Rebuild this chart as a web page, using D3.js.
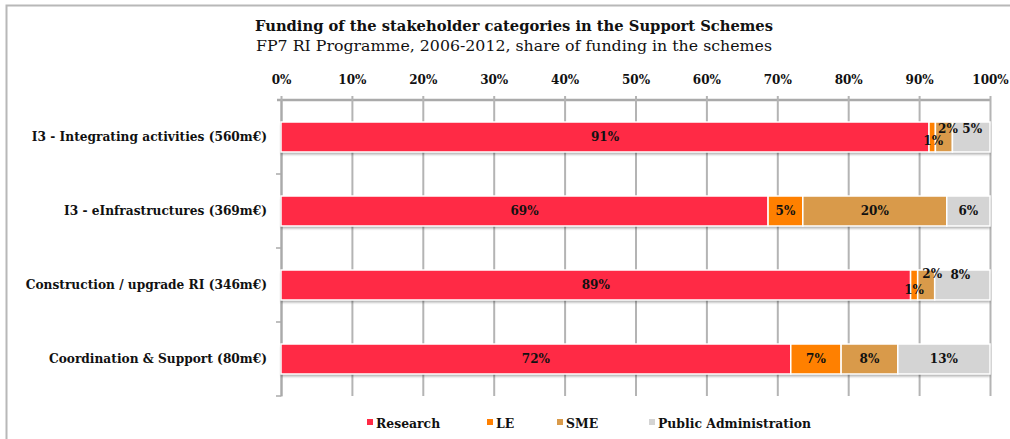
<!DOCTYPE html>
<html>
<head>
<meta charset="utf-8">
<script src="https://cdn.jsdelivr.net/npm/d3@7"></script>
<style>
  html, body { margin: 0; padding: 0; background: #fff; }
  svg { display: block; }
  text { font-family: "DejaVu Serif", serif; fill: #111; }
</style>
</head>
<body>
<svg id="chart" width="1010" height="439"></svg>
<script>
// data (percent of funding)
const categories = [
  'I3 - Integrating activities (560m€)',
  'I3 - eInfrastructures (369m€)',
  'Construction / upgrade RI (346m€)',
  'Coordination & Support (80m€)'
];
const seriesNames = ['Research', 'LE', 'SME', 'Public Administration'];
const research = [91.4, 68.7, 88.8, 71.9];
const le = [0.9, 4.9, 1.0, 7.1];
const sme = [2.4, 20.3, 2.4, 8.0];
const publicAdmin = [5.3, 6.1, 7.8, 13.0];
const xTicks = [0, 10, 20, 30, 40, 50, 60, 70, 80, 90, 100];

const colors = ['#ff2a45', '#ff8000', '#d99a4a', '#d4d4d4'];
const serif = '"DejaVu Serif", serif';

const svg = d3.select('#chart');

// frame
svg.append('path')
  .attr('d', 'M6.5,439 L6.5,5.5 L1010,5.5')
  .attr('fill', 'none')
  .attr('stroke', '#b8b8b8')
  .attr('stroke-width', 2);

// titles
svg.append('text')
  .attr('x', 514).attr('y', 31)
  .attr('text-anchor', 'middle')
  .attr('font-size', 15).attr('font-weight', 'bold')
  .attr('textLength', 518).attr('lengthAdjust', 'spacingAndGlyphs')
  .text('Funding of the stakeholder categories in the Support Schemes');
svg.append('text')
  .attr('x', 514).attr('y', 51)
  .attr('text-anchor', 'middle')
  .attr('font-size', 14)
  .attr('textLength', 516).attr('lengthAdjust', 'spacingAndGlyphs')
  .text('FP7 RI Programme, 2006-2012, share of funding in the schemes');

const x = d3.scaleLinear().domain([0, 100]).range([281, 990]);
const y = d3.scaleBand().domain(categories).range([100, 396])
  .paddingInner(0.595).paddingOuter(0.2975);

// top axis + vertical gridlines
const xAxis = svg.append('g')
  .attr('transform', 'translate(0,100)')
  .call(d3.axisTop(x).tickValues(xTicks).tickFormat((d) => d + '%')
    .tickSizeInner(-296).tickSizeOuter(0).tickPadding(16));
xAxis.select('.domain')
  .attr('stroke', '#aaa').attr('stroke-width', 2.5)
  .attr('d', 'M277,0H990');
xAxis.selectAll('.tick line')
  .attr('stroke', '#b4b4b4').attr('stroke-width', 2)
  .attr('y1', -4);
xAxis.selectAll('.tick text')
  .attr('font-size', 12).attr('font-weight', 'bold')
  .attr('font-family', serif).attr('fill', '#111');

// left axis
const yAxis = svg.append('g')
  .attr('transform', 'translate(281,0)')
  .call(d3.axisLeft(y).tickSize(0).tickPadding(14));
yAxis.select('.domain').attr('stroke', '#aaa').attr('stroke-width', 2);
yAxis.selectAll('.tick text')
  .attr('font-size', 12.2).attr('font-weight', 'bold')
  .attr('font-family', serif).attr('fill', '#111');
const bounds = d3.range(1, categories.length + 1).map((i) => 100 + i * y.step());
yAxis.selectAll('line.sep')
  .data(bounds)
  .join('line')
  .attr('class', 'sep')
  .attr('x1', -5).attr('x2', 0)
  .attr('y1', (d) => d).attr('y2', (d) => d)
  .attr('stroke', '#aaa').attr('stroke-width', 1.5);

// stack
const rows = categories.map((c, i) => ({
  cat: c,
  Research: research[i],
  LE: le[i],
  SME: sme[i],
  'Public Administration': publicAdmin[i]
}));
const stacked = d3.stack().keys(seriesNames)(rows);

// soft shadow under bars
const defs = svg.append('defs');
const f = defs.append('filter').attr('id', 'shadow')
  .attr('x', '-5%').attr('y', '-20%').attr('width', '110%').attr('height', '160%');
f.append('feDropShadow')
  .attr('dx', 0).attr('dy', 2.5).attr('stdDeviation', 1)
  .attr('flood-color', '#000').attr('flood-opacity', 0.3);

const barsG = svg.append('g');
barsG.selectAll('rect.shadow')
  .data(categories)
  .join('rect')
  .attr('class', 'shadow')
  .attr('x', x(0)).attr('y', (d) => y(d))
  .attr('width', x(100) - x(0)).attr('height', y.bandwidth())
  .attr('fill', '#fff')
  .attr('filter', 'url(#shadow)');

const layers = barsG.selectAll('g.layer')
  .data(stacked)
  .join('g')
  .attr('class', 'layer')
  .attr('fill', (d, i) => colors[i]);

layers.selectAll('rect')
  .data((d) => d)
  .join('rect')
  .attr('x', (d) => x(d[0]))
  .attr('y', (d) => y(d.data.cat))
  .attr('width', (d) => x(d[1]) - x(d[0]))
  .attr('height', y.bandwidth())
  .attr('stroke', '#fff')
  .attr('stroke-width', 1.5);

// value labels; small slices are nudged like in the original
const nudge = {
  '0-1': [1, 4], '0-2': [4, -8], '0-3': [1, -8],
  '2-1': [0, 5], '2-2': [6, -11], '2-3': [-2, -10]
};
const labelsG = svg.append('g');
stacked.forEach((layer, si) => {
  layer.forEach((d, ci) => {
    const n = nudge[ci + '-' + si] || [0, 0];
    labelsG.append('text')
      .attr('x', (x(d[0]) + x(d[1])) / 2 + n[0])
      .attr('y', y(d.data.cat) + y.bandwidth() / 2 + n[1])
      .attr('dy', '0.35em')
      .attr('text-anchor', 'middle')
      .attr('font-size', 12).attr('font-weight', 'bold')
      .text(Math.round(d[1] - d[0]) + '%');
  });
});

// legend
const legendX = [367, 487, 557, 649];
const legend = svg.append('g').attr('transform', 'translate(0,424)');
const items = legend.selectAll('g')
  .data(seriesNames)
  .join('g')
  .attr('transform', (d, i) => `translate(${legendX[i]},0)`);
items.append('rect')
  .attr('x', 0).attr('y', -5).attr('width', 6).attr('height', 6)
  .attr('fill', (d, i) => colors[i]);
items.append('text')
  .attr('x', 9).attr('y', 0).attr('dy', '0.3em')
  .attr('font-size', 12.4).attr('font-weight', 'bold')
  .text((d) => d);
</script>
</body>
</html>
